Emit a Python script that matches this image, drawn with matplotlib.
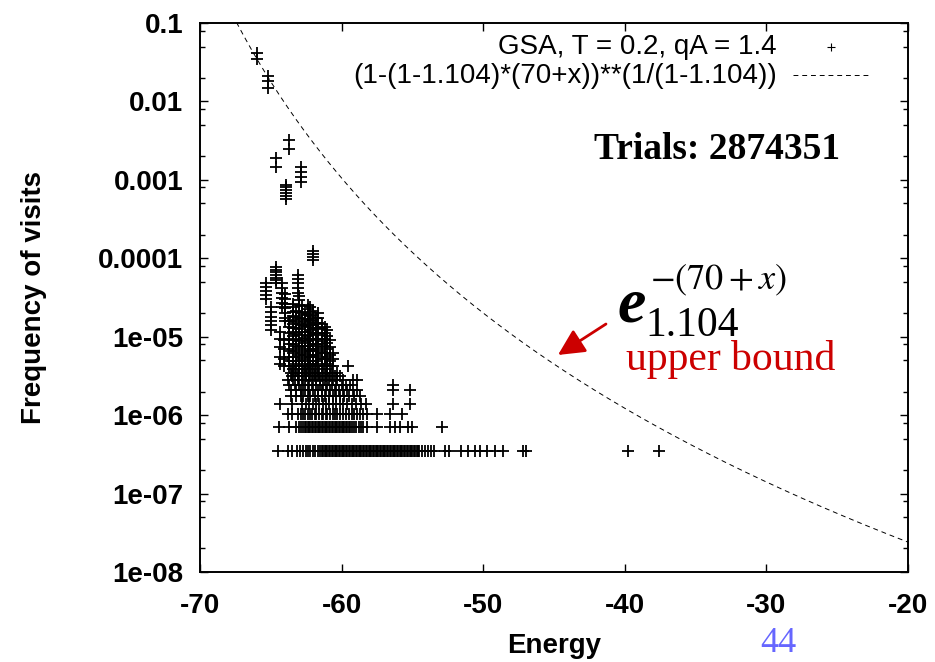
import numpy as np
import matplotlib
matplotlib.use("Agg")
import matplotlib.pyplot as plt
from matplotlib.ticker import LogLocator, NullFormatter

plt.rcParams["font.family"] = ["Liberation Sans", "DejaVu Sans"]
plt.rcParams["axes.unicode_minus"] = False
plt.rcParams["mathtext.fontset"] = "stix"

# ---------------- data ----------------
trials = 2874351
q_bound = 1.104

x_ticks = [-70, -60, -50, -40, -30, -20]
y_ticks = [1e-8, 1e-7, 1e-6, 1e-5, 1e-4, 1e-3, 1e-2, 1e-1]
y_tick_labels = ["1e-08", "1e-07", "1e-06", "1e-05", "0.0001", "0.001", "0.01", "0.1"]

# vertical stacks: energy of each stack and the visit counts at that energy
stack_energy = [-66.0, -65.2, -63.7, -64.6, -62.9, -63.9, -62.0,
                -65.34, -64.6, -64.23, -64.0, -63.06, -65.0, -64.35, -64.1,
                -63.7, -63.4, -63.2, -63.0, -62.8, -62.6, -62.4, -62.2,
                -62.0, -61.8, -61.64, -61.4, -61.2, -61.0, -60.8, -60.6, -59.55]
stack_counts = [
    [120700, 100600],
    [60400, 51700, 43100],
    [9200, 7200],
    [5460, 4170],
    [4170, 3590, 3100, 2670],
    [2500, 2300, 2130, 1950, 1780, 1640],
    [359, 330, 302, 273],
    [141, 125, 110, 98, 88],
    [220, 205, 190, 175, 162, 150, 141],
    [138, 120, 104, 90, 78, 68],
    [102, 88, 76, 66, 57, 50, 46],
    [174, 155, 138, 120, 105],
    [68, 60, 52, 45, 40, 35],
    [33, 27, 21, 16, 13],
    [26, 20, 15, 12],
    [45, 38, 32, 27, 23, 19, 16, 14, 12],
    [76, 68, 60, 53, 47, 42, 37, 33, 29, 26, 23, 20, 18, 16, 14, 12, 11],
    [62, 52, 44, 37, 31, 26, 22, 19, 16, 13, 11],
    [95, 85, 72, 60, 50, 42, 36, 30, 25, 21, 17, 14, 12],
    [70, 58, 48, 40, 33, 27, 22, 18, 15, 12],
    [55, 46, 39, 33, 28, 24, 20, 17, 14, 12, 11],
    [72, 64, 56, 49, 43, 38, 33, 29, 25, 22, 19, 16, 13, 11],
    [68, 60, 53, 46, 40, 35, 30, 26, 22, 19, 16, 13, 11],
    [62, 54, 47, 41, 36, 31, 27, 23, 20, 17, 14, 12],
    [50, 43, 37, 32, 27, 23, 20, 17, 14, 12],
    [58, 50, 43, 37, 32, 27, 23, 19, 16, 13, 11],
    [42, 36, 30, 25, 21, 18, 15, 12],
    [38, 32, 27, 22, 18, 15, 12],
    [35, 29, 24, 20, 16, 13, 11],
    [26, 21, 17, 14, 12],
    [18, 15, 12],
    [12],
]

# rows of low visit counts (energies visited exactly k times)
energy_count1 = [-64.5, -63.8, -63.5, -63.15, -62.95, -62.7, -62.5, -62.35, -62.2, -62.0,
                 -61.85, -61.7, -61.55, -61.4, -61.3, -61.2, -61.1, -61.0, -60.9, -60.8,
                 -60.7, -60.6, -60.5, -60.4, -60.3, -60.2, -60.1, -60.0, -59.9, -59.8,
                 -59.7, -59.6, -59.5, -59.4, -59.3, -59.2, -59.1, -59.0, -58.9, -58.8,
                 -58.7, -58.6, -58.5, -58.4, -58.3, -58.2, -58.1, -58.0, -57.9, -57.8,
                 -57.7, -57.6, -57.5, -57.4, -57.3, -57.2, -57.1, -57.0, -56.9, -56.8,
                 -56.7, -56.6, -56.5, -56.4, -56.3, -56.2, -56.1, -56.0, -55.9, -55.8,
                 -55.7, -55.6, -55.5, -55.4, -55.3, -55.2, -55.1, -55.0, -54.9, -54.8,
                 -54.7, -54.6, -54.5, -54.3, -54.1, -53.9, -53.7, -53.5, -52.7, -52.4,
                 -51.6, -51.1, -50.6, -50.2, -49.7, -49.2, -48.6, -47.2, -47.0, -39.8, -37.6]
energy_count2 = [-64.4, -63.7, -63.2, -63.0, -62.85, -62.7, -62.6, -62.5, -62.4, -62.3,
                 -62.2, -62.1, -62.0, -61.9, -61.8, -61.7, -61.6, -61.5, -61.4, -61.3,
                 -61.2, -61.1, -61.0, -60.9, -60.8, -60.7, -60.6, -60.5, -60.4, -60.3,
                 -60.2, -60.1, -60.0, -59.9, -59.8, -59.7, -59.6, -59.5, -59.4, -59.3,
                 -59.1, -59.0, -58.8, -58.6, -58.5, -58.2, -57.5, -56.6, -56.2, -55.9,
                 -55.3, -55.0, -52.9]
energy_count3 = [-63.8, -63.5, -63.1, -62.9, -62.7, -62.6, -62.4, -62.2, -62.1, -61.9,
                 -61.8, -61.6, -61.4, -61.3, -61.1, -61.0, -60.8, -60.6, -60.5, -60.3,
                 -60.1, -59.9, -59.7, -59.5, -59.3, -59.1, -58.9, -58.7, -58.5, -58.2,
                 -57.5, -56.6, -55.7]
energy_count4 = [-64.35, -63.5, -62.8, -62.5, -62.3, -62.0, -61.8, -61.6, -61.3, -61.1,
                 -60.9, -60.6, -60.4, -60.1, -59.9, -59.6, -59.3, -59.0, -58.6, -58.3,
                 -56.4, -55.2]
energy_count5 = [-63.6, -63.2, -62.9, -62.7, -62.4, -62.2, -61.9, -61.7, -61.4, -61.2,
                 -60.9, -60.6, -60.4, -60.1, -59.8, -59.5, -59.1, -58.7]
energy_count6 = [-63.6, -63.2, -62.9, -62.6, -62.3, -62.0, -61.7, -61.4, -61.1, -60.8,
                 -60.5, -60.2, -59.9, -59.6, -59.2, -58.9, -56.4, -55.2]
energy_count7 = [-63.7, -63.3, -63.0, -62.7, -62.4, -62.1, -61.8, -61.5, -61.3, -61.0,
                 -60.7, -60.4, -60.0, -59.7, -59.4, -56.4]
energy_count8 = [-63.8, -63.4, -63.1, -62.8, -62.6, -62.3, -62.0, -61.8, -61.5, -61.2,
                 -60.9, -60.6, -60.3, -59.9, -59.2, -58.9]
energy_count9 = [-63.5, -63.1, -62.8, -62.5, -62.2, -61.9, -61.7, -61.4, -61.1, -60.8,
                 -60.5, -60.1]
energy_count10 = [-63.6, -63.3, -63.0, -62.7, -62.5, -62.3, -62.1, -61.9, -61.6, -61.3,
                  -61.0, -60.7, -60.3]

row_counts = [1, 2, 3, 4, 5, 6, 7, 8, 9, 10]
row_energies = [energy_count1, energy_count2, energy_count3, energy_count4, energy_count5,
                energy_count6, energy_count7, energy_count8, energy_count9, energy_count10]

# ---------------- assemble points ----------------
pts_e, pts_c = [], []
for e, cs in zip(stack_energy, stack_counts):
    for c in cs:
        pts_e.append(e)
        pts_c.append(c)
for k, es in zip(row_counts, row_energies):
    for e in es:
        pts_e.append(e)
        pts_c.append(k)
pts_e = np.array(pts_e)
pts_f = np.array(pts_c, dtype=float) / trials

# upper bound curve from the legend formula
xc = np.linspace(-70, -20, 600)
yc = (1 - (1 - q_bound) * (70 + xc)) ** (1 / (1 - q_bound))

# ---------------- figure ----------------
fig = plt.figure(figsize=(9.35, 6.62), dpi=100)
ax = fig.add_axes([200 / 935, 1 - 572 / 662, 708 / 935, 549 / 662])

ax.plot(pts_e, pts_f, ls="none", marker="+", ms=8.5, mew=1.3, color="black")
ax.plot(xc, yc, color="black", lw=0.7, ls=(0, (5, 4)))

ax.set_yscale("log")
ax.set_xlim(-70, -20)
ax.set_ylim(1e-8, 0.1)
ax.set_xticks(x_ticks)
ax.set_xticklabels([str(v) for v in x_ticks])
ax.set_yticks(y_ticks)
ax.set_yticklabels(y_tick_labels)
ax.yaxis.set_minor_locator(LogLocator(base=10, subs=(2, 5, 8)))
ax.yaxis.set_minor_formatter(NullFormatter())
ax.tick_params(which="both", direction="in", top=True, right=True, width=1.0)
ax.tick_params(which="major", length=6)
ax.tick_params(which="minor", length=3.5)
ax.tick_params(axis="x", which="major", pad=15, labelsize=20)
ax.tick_params(axis="y", which="major", pad=12, labelsize=20)
for lab in ax.get_xticklabels() + ax.get_yticklabels():
    lab.set_fontweight("bold")
for sp in ax.spines.values():
    sp.set_linewidth(1.4)

ax.set_xlabel("Energy", fontsize=20, fontweight="bold")
ax.xaxis.set_label_coords(0.5, -0.112)
ax.set_ylabel("Frequency of visits", fontsize=20, fontweight="bold")
ax.yaxis.set_label_coords(-0.216, 0.5)

# legend (drawn manually)
ax.text(0.815, 0.956, "GSA, T = 0.2, qA = 1.4", transform=ax.transAxes,
        ha="right", va="center", fontsize=20)
ax.plot([0.891], [0.956], transform=ax.transAxes, marker="+", ms=6, mew=0.8,
        color="black", ls="none", clip_on=False)
ax.text(0.815, 0.9035, "(1-(1-1.104)*(70+x))**(1/(1-1.104))", transform=ax.transAxes,
        ha="right", va="center", fontsize=20)
ax.plot([0.8376, 0.9477], [0.9053, 0.9053], transform=ax.transAxes,
        color="black", lw=0.7, ls=(0, (5, 4)))

serif = ["Liberation Serif", "DejaVu Serif"]
ax.text(0.730, 0.7687, f"Trials: {trials}", transform=ax.transAxes, ha="center",
        va="center", fontsize=27, fontweight="bold", family=serif)

# q-exponential annotation
ax.text(0.590, 0.4554, "e", transform=ax.transAxes, ha="left", va="baseline",
        fontsize=46, fontweight="bold", style="italic", family=serif)
ax.text(0.6285, 0.4300, "1.104", transform=ax.transAxes, ha="left", va="baseline",
        fontsize=30, family=serif)
ax.text(0.6356, 0.5155, r"$-(70+x)$", transform=ax.transAxes, ha="left",
        va="baseline", fontsize=26)
ax.text(0.6017, 0.3680, "upper bound", transform=ax.transAxes, ha="left",
        va="baseline", fontsize=30, color="#cc0000", family=serif)
ax.annotate("", xy=(0.5056, 0.3953), xytext=(0.5734, 0.4517),
            xycoords="axes fraction", textcoords="axes fraction",
            arrowprops=dict(arrowstyle="-|>,head_length=0.8,head_width=0.4",
                            color="#cc0000", lw=2, mutation_scale=20,
                            shrinkA=0, shrinkB=0))

fig.text(778 / 935, 10 / 662, "44", ha="center", va="baseline", fontsize=26,
         color="#6666ff", family=serif)

fig.savefig("out.png", dpi=100)
